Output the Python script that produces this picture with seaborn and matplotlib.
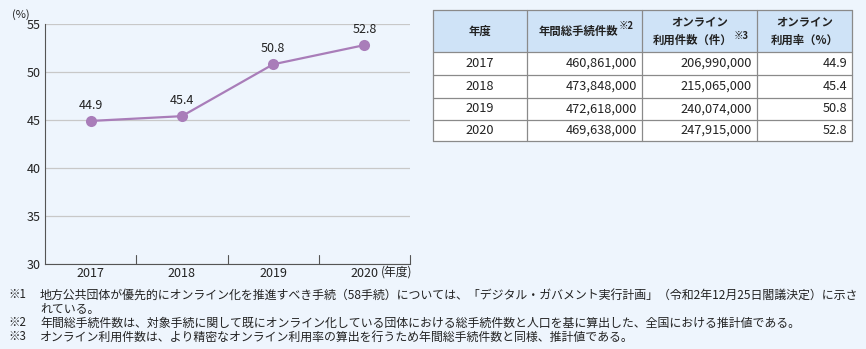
import matplotlib
matplotlib.use("Agg")
import matplotlib.pyplot as plt
import seaborn as sns
import pandas as pd
from matplotlib.patches import Rectangle

years = ["2017", "2018", "2019", "2020"]
rates = [44.9, 45.4, 50.8, 52.8]
total_procs = ["460,861,000", "473,848,000", "472,618,000", "469,638,000"]
online_procs = ["206,990,000", "215,065,000", "240,074,000", "247,915,000"]
rate_labels = ["44.9", "45.4", "50.8", "52.8"]
headers = [["年度"], ["年間総手続件数"], ["オンライン", "利用件数（件）"], ["オンライン", "利用率（%）"]]
header_sups = ["", "※2", "※3", ""]
notes = [
    ("※1", "地方公共団体が優先的にオンライン化を推進すべき手続（58手続）については、「デジタル・ガバメント実行計画」（令和2年12月25日閣議決定）に示さ"),
    ("", "れている。"),
    ("※2", "年間総手続件数は、対象手続に関して既にオンライン化している団体における総手続件数と人口を基に算出した、全国における推計値である。"),
    ("※3", "オンライン利用件数は、より精密なオンライン利用率の算出を行うため年間総手続件数と同様、推計値である。"),
]

sns.set_style("white")
plt.rcParams['font.family'] = ['Noto Sans CJK JP', 'DejaVu Sans']

BG = "#EEF5FD"
LINE = "#A97DB9"
TXT = "#222222"
W, H = 866, 349
fig = plt.figure(figsize=(W / 100, H / 100), dpi=100, facecolor=BG)

def fx(px): return px / W
def fy(py): return 1 - py / H

ax = fig.add_axes([fx(45), fy(264), fx(410) - fx(45), fy(24) - fy(264)])
ax.set_facecolor(BG)
df = pd.DataFrame({"year": years, "rate": rates})
sns.lineplot(data=df, x="year", y="rate", ax=ax, color=LINE, marker="o",
             markersize=8, markeredgewidth=0, linewidth=1.6, sort=False)
ax.set_xlim(-0.5, 3.5)
ax.set_ylim(30, 55)
ax.set_yticks([30, 35, 40, 45, 50, 55])
ax.yaxis.grid(True, color="#C8C8C8", linewidth=0.9)
ax.set_axisbelow(True)
for s in ["top", "right"]:
    ax.spines[s].set_visible(False)
for s in ["left", "bottom"]:
    ax.spines[s].set_color("#555555")
    ax.spines[s].set_linewidth(0.8)
ax.set_xlabel("")
ax.set_ylabel("")
ax.set_xticks([0, 1, 2, 3])
ax.set_xticklabels(years)
ax.tick_params(axis="x", length=0, labelsize=9, pad=2, colors=TXT)
ax.tick_params(axis="y", length=0, labelsize=9, pad=3, colors=TXT)
for b in [0.5, 1.5, 2.5, 3.5]:
    ax.plot([b, b], [30, 30.9], color="#555555", linewidth=0.8, clip_on=False)
for i, (y, lab) in enumerate(zip(rates, rate_labels)):
    ax.annotate(lab, (i, y), xytext=(0, 6.5), textcoords="offset points",
                ha="center", va="bottom", fontsize=9, color=TXT)
fig.text(fx(12), fy(15), "(%)", fontsize=8, color=TXT, va="center")
fig.text(fx(381), fy(272), "(年度)", fontsize=8.5, color=TXT, va="center")

# Table
col_x = [433, 527, 642, 757, 852]
row_y = [10, 52, 75, 98, 120, 141]
tax = fig.add_axes([0, 0, 1, 1], facecolor="none")
tax.set_xlim(0, W)
tax.set_ylim(H, 0)
tax.axis("off")
tax.add_patch(Rectangle((col_x[0], row_y[0]), col_x[-1] - col_x[0], row_y[1] - row_y[0],
                        facecolor="#CFE3F7", edgecolor="none"))
tax.add_patch(Rectangle((col_x[0], row_y[1]), col_x[-1] - col_x[0], row_y[-1] - row_y[1],
                        facecolor="white", edgecolor="none"))
for x in col_x:
    tax.plot([x, x], [row_y[0], row_y[-1]], color="#8A8A8A", linewidth=0.9)
for y in row_y:
    tax.plot([col_x[0], col_x[-1]], [y, y], color="#8A8A8A", linewidth=0.9)

renderer = fig.canvas.get_renderer()
hc = (row_y[0] + row_y[1]) / 2
for j, (lines, sup) in enumerate(zip(headers, header_sups)):
    cx = (col_x[j] + col_x[j + 1]) / 2
    n = len(lines)
    ys = [hc] if n == 1 else [hc - 9.5, hc + 9.5]
    for k, (line, ly) in enumerate(zip(lines, ys)):
        t = tax.text(cx, ly, line, ha="center", va="center", fontsize=8.2,
                     color=TXT, fontweight="bold")
        if sup and k == n - 1:
            s = tax.text(0, 0, sup, fontsize=6.8, color=TXT, fontweight="bold",
                         ha="left", va="center")
            tw = t.get_window_extent(renderer).width
            sw = s.get_window_extent(renderer).width
            x0 = cx - (tw + sw) / 2 + 1
            t.set_ha("left")
            t.set_x(x0)
            s.set_x(x0 + tw + 0.5)
            s.set_y(ly - 5)

cols = [years, total_procs, online_procs, rate_labels]
for i in range(4):
    cy = (row_y[i + 1] + row_y[i + 2]) / 2
    tax.text((col_x[0] + col_x[1]) / 2, cy, cols[0][i], ha="center", va="center",
             fontsize=9.2, color=TXT)
    for j in range(1, 4):
        tax.text(col_x[j + 1] - 5, cy, cols[j][i], ha="right", va="center",
                 fontsize=9.2, color=TXT)

# Notes
ny = [295, 309, 323, 337]
for (mark, txt), y in zip(notes, ny):
    if mark:
        tax.text(8, y, mark, ha="left", va="center", fontsize=8.3, color=TXT)
    tax.text(40, y, txt, ha="left", va="center", fontsize=8.6, color=TXT)

fig.savefig("out.png", dpi=100, facecolor=BG)
